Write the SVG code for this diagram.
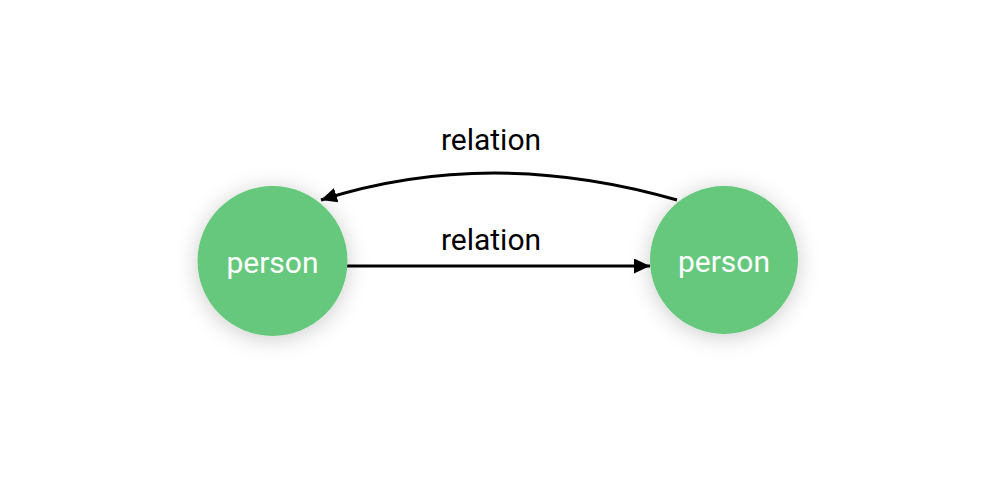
<svg xmlns="http://www.w3.org/2000/svg" width="996" height="478" viewBox="0 0 996 478">
<defs>
<style>
.node{fill:#66c87b;filter:url(#sh);}
.nl{font-family:Roboto,"Liberation Sans",sans-serif;font-size:30px;fill:#ffffff;text-anchor:middle;}
.el{font-family:Roboto,"Liberation Sans",sans-serif;font-size:30px;fill:#000000;text-anchor:middle;}
.edge{fill:none;stroke:#000;stroke-width:3;}
</style>
<filter id="sh" x="-50%" y="-50%" width="200%" height="200%">
<feDropShadow dx="0" dy="3" stdDeviation="11" flood-color="#000" flood-opacity="0.2"/>
</filter>
<marker id="ah" markerUnits="userSpaceOnUse" markerWidth="17" markerHeight="15" refX="16" refY="7.5" orient="auto">
<path d="M0,0 L16,7.5 L0,15 Z" fill="#000"/>
</marker>
</defs>
<rect width="996" height="478" fill="#fff"/>
<g id="connectors">
<path class="edge" d="M347,266 L650,266" marker-end="url(#ah)"/>
<path class="edge" d="M677,200 Q490,146 321,200" marker-end="url(#ah)"/>
<text class="el" x="491" y="250">relation</text>
<text class="el" x="491" y="150">relation</text>
</g>
<g id="node1">
<circle class="node" cx="272.5" cy="261" r="75"/>
<text class="nl" x="272.5" y="273">person</text>
</g>
<g id="node2">
<circle class="node" cx="724" cy="260" r="74"/>
<text class="nl" x="724" y="272">person</text>
</g>
</svg>
